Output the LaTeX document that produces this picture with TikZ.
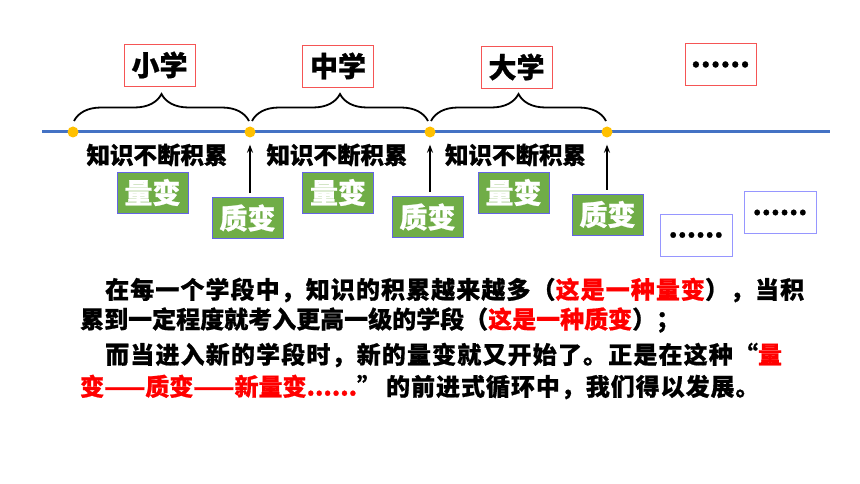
\documentclass[tikz,border=0pt]{standalone}
\usepackage{fontspec}
\setmainfont{Noto Sans CJK SC}[BoldFeatures={FakeBold=0.8}]
\usepackage{xcolor}
\usepackage{tikz}
\usetikzlibrary{arrows.meta,positioning,decorations.pathreplacing}
\definecolor{lineblue}{RGB}{68,114,196}
\definecolor{knotgold}{RGB}{255,192,0}
\definecolor{stagered}{RGB}{245,85,85}
\definecolor{qgreen}{RGB}{112,173,71}
\definecolor{boxblue}{RGB}{100,100,230}
\definecolor{dotblue}{RGB}{150,150,255}
\tikzset{
    stagebox/.style={draw=stagered, line width=0.9pt, minimum width=71pt, minimum height=42pt,
        inner sep=0pt, font=\fontsize{28}{30}\selectfont\bfseries},
    changebox/.style={draw=boxblue, fill=qgreen, line width=0.9pt, minimum width=71pt,
        minimum height=41pt, inner sep=0pt, text=white, font=\fontsize{28}{30}\selectfont\bfseries},
    dotbox/.style={draw=dotblue, line width=0.9pt, minimum width=72pt, minimum height=42pt,
        inner sep=0pt, font=\fontsize{26}{28}\selectfont\bfseries},
    knot/.style={circle, fill=knotgold, minimum size=11pt, inner sep=0pt},
    growlabel/.style={inner sep=0pt, font=\fontsize{23.5}{26}\selectfont\bfseries},
    paraline/.style={anchor=west, inner sep=0pt, font=\fontsize{24}{30}\selectfont\bfseries},
    % lines of the paragraph that run to the right margin
    spreadline/.style={anchor=west, inner sep=0pt,
        font=\fontsize{24}{30}\selectfont\bfseries\addfontfeature{LetterSpace=#1}},
    stagebrace/.style={line width=1.8pt, decorate, decoration={brace, amplitude=27pt}}
}

\begin{document}
\begin{tikzpicture}[x=1pt, y=-1pt]
    \useasboundingbox (0,0) rectangle (860,484);
    % time line
    \coordinate (tl) at (42,132);
    \coordinate (tr) at (830,132);
    \draw[line width=3pt, lineblue] (tl) -- (tr);
    \foreach \n/\x in {k0/73, k1/250, k2/430, k3/607}
        \node[knot] (\n) at (\x,132) {};
    % braces over each stage
    \draw[stagebrace] ([xshift=1pt, yshift=11pt]k0.center) -- ([xshift=-1pt, yshift=11pt]k1.center);
    \draw[stagebrace] ([xshift=2pt, yshift=11pt]k1.center) -- ([xshift=-2pt, yshift=11pt]k2.center);
    \draw[stagebrace] ([xshift=1pt, yshift=11pt]k2.center) -- ([xshift=-1pt, yshift=11pt]k3.center);
    % stages
    \node[stagebox] (primary) at (159.5,65) {小学};
    \node[stagebox] (middle) at (338,66) {中学};
    \node[stagebox] (college) at (516.5,67) {大学};
    \node[stagebox] (later) at (720.5,64.5) {......};
    % accumulation
    \node[growlabel] (grow1) at (157,155) {知识不断积累};
    \node[growlabel] (grow2) at (337,155) {知识不断积累};
    \node[growlabel] (grow3) at (515.5,155) {知识不断积累};
    \node[changebox] (qty1) at (152.5,192.5) {量变};
    \node[changebox] (qty2) at (338,192.5) {量变};
    \node[changebox] (qty3) at (513.5,192.5) {量变};
    \node[changebox] (qual1) at (247.5,218) {质变};
    \node[changebox] (qual2) at (427.5,217) {质变};
    \node[changebox] (qual3) at (607.5,214.5) {质变};
    \node[dotbox] (more1) at (696,235) {......};
    \node[dotbox] (more2) at (780,212.5) {......};
    % leaps
    \foreach \q/\k in {qual1/k1, qual2/k2, qual3/k3}
        \draw[line width=1.6pt, -{Stealth[length=8pt, width=6pt]}, shorten <=4pt, shorten >=7pt]
            (\q.north -| \k) -- (\k.south);
    % text below
    \node[spreadline=4.5] (line1) at (105,290)
        {在每一个学段中，知识的积累越来越多（\textcolor{red}{这是一种量变}），当积};
    \node[paraline] (line2) at (80,320)
        {累到一定程度就考入更高一级的学段（\textcolor{red}{这是一种质变}）；};
    \node[spreadline=4.8] (line3) at (105,355)
        {而当进入新的学段时，新的量变就又开始了。正是在这种“\textcolor{red}{量}};
    \node[paraline] (line4) at (80,387)
        {\textcolor{red}{变——质变——新量变......}”\hspace{5pt}{\addfontfeature{LetterSpace=4}的前进式循环中，我们得以发展。}};
\end{tikzpicture}
\end{document}
